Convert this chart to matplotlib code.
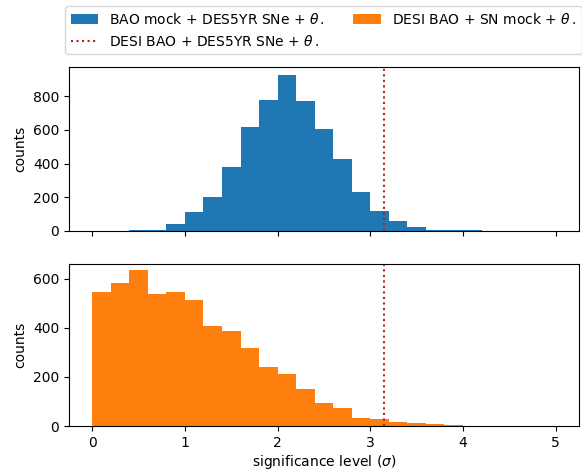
import matplotlib

matplotlib.use("Agg")
import matplotlib.pyplot as plt
import numpy as np

# histogram bins: 0.2 sigma wide from 0 to 5
bin_edges = np.round(np.arange(0.0, 5.0001, 0.2), 2)

bao_mock_counts = [0, 0, 5, 5, 38, 109, 200, 380, 618, 778, 925, 772, 606,
                   428, 232, 115, 61, 20, 5, 4, 3, 0, 0, 0, 0]
sn_mock_counts = [548, 582, 635, 537, 546, 513, 407, 388, 317, 239, 211, 150,
                  93, 72, 31, 29, 16, 12, 8, 4, 0, 0, 0, 0, 0]
observed_sigma = 3.15

label_bao = r"BAO mock + DES5YR SNe + $\theta\,.$"
label_sn = r"DESI BAO + SN mock + $\theta\,.$"
label_obs = r"DESI BAO + DES5YR SNe + $\theta\,.$"

fig = plt.figure(figsize=(5.82, 4.70), dpi=100)
ax_top = fig.add_axes([0.1186, 0.509, 0.876, 0.3477])
ax_bot = fig.add_axes([0.1186, 0.0936, 0.876, 0.3447], sharex=ax_top)

lefts = bin_edges[:-1]
widths = np.diff(bin_edges)

h_bao = ax_top.bar(lefts, bao_mock_counts, width=widths, align="edge",
                   color="tab:blue", label=label_bao)
h_obs = ax_top.axvline(observed_sigma, color="firebrick", linestyle=":",
                       linewidth=1.5, label=label_obs)
h_sn = ax_bot.bar(lefts, sn_mock_counts, width=widths, align="edge",
                  color="tab:orange", label=label_sn)
ax_bot.axvline(observed_sigma, color="firebrick", linestyle=":", linewidth=1.5)

ax_top.set_xlim(-0.25, 5.25)
ax_top.set_ylim(0, 972)
ax_bot.set_ylim(0, 661)
ax_top.set_yticks([0, 200, 400, 600, 800])
ax_bot.set_yticks([0, 200, 400, 600])
ax_top.tick_params(labelbottom=False)

ax_top.set_ylabel("counts")
ax_bot.set_ylabel("counts")
ax_bot.set_xlabel(r"significance level ($\sigma$)", labelpad=2)

ax_top.legend(handles=[h_bao, h_obs, h_sn], ncol=2, loc="lower left",
              bbox_to_anchor=(-0.008, 1.08), borderaxespad=0.0,
              columnspacing=2.0)

fig.savefig("out.png", dpi=100)
plt.close(fig)
